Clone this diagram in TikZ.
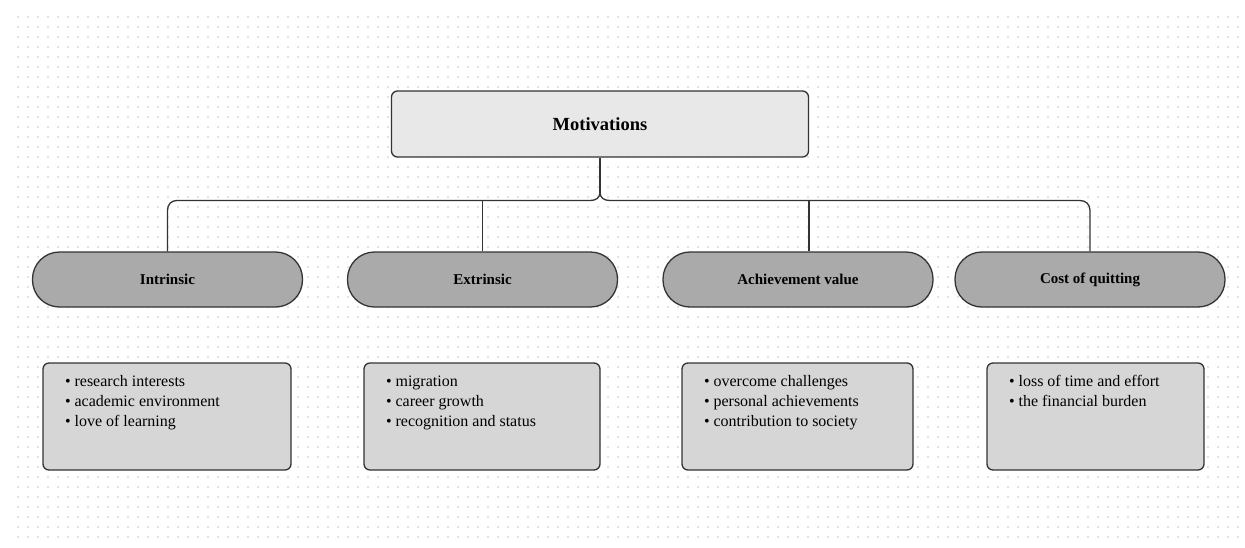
\documentclass[tikz,border=0pt]{standalone}
\usepackage{fontspec}
\setmainfont{Liberation Serif}
\definecolor{dotc}{HTML}{E2E2E8}
\definecolor{edgec}{HTML}{333333}
\definecolor{topfill}{HTML}{E8E8E8}
\definecolor{pillfill}{HTML}{AAAAAA}
\definecolor{boxfill}{HTML}{D6D6D6}
\newcommand\itemlist[2]{\parbox[c][107pt][t]{#1}{\raggedright\leftskip=22pt\fontsize{16}{20}\selectfont\rule{0pt}{23pt}#2}}
\tikzset{
  topbox/.style={draw=edgec, line width=1.3pt, fill=topfill, rounded corners=6pt,
    minimum width=417pt, minimum height=66pt, inner sep=0pt,
    font=\fontsize{18.5}{22}\selectfont\bfseries},
  pill/.style={draw=edgec, line width=1.3pt, fill=pillfill, rounded corners=27pt,
    minimum width=270pt, minimum height=55pt, inner sep=0pt,
    font=\fontsize{15}{18}\selectfont\bfseries},
  listbox/.style={draw=edgec, line width=1.3pt, fill=boxfill, rounded corners=6pt,
    inner sep=0pt},
  conn/.style={draw=edgec, line width=1.3pt}
}
\begin{document}
\begin{tikzpicture}[x=1pt,y=-1pt]
\useasboundingbox (0,0) rectangle (1245,547);
\fill[white] (0,0) rectangle (1245,547);
\foreach \i in {0,...,122}{
  \foreach \j in {0,...,52}{
    \fill[dotc] ({17+10*\i},{16+10*\j}) rectangle ++(2,2);
  }
}
% nodes
\node[topbox] (mot) at (600,124) {Motivations};
\node[pill] (int) at (167.5,279.5) {Intrinsic};
\node[pill] (ext) at (482.5,279.5) {Extrinsic};
\node[pill] (ach) at (798,279.5) {Achievement value};
\node[pill] (cost) at (1090,279.5) {Cost of quitting};

\node[listbox] (l1) at (167,416.5) {\itemlist{248pt}{• research interests\\• academic environment\\• love of learning}};
\node[listbox] (l2) at (482,416.5) {\itemlist{236pt}{• migration\\• career growth\\• recognition and status}};
\node[listbox] (l3) at (797.5,416.5) {\itemlist{231pt}{• overcome challenges\\• personal achievements\\• contribution to society}};
\node[listbox] (l4) at (1095.5,416.5) {\itemlist{217pt}{• loss of time and effort\\• the financial burden}};

% connectors
\coordinate (split) at (600,192);
\coordinate (busL) at (590,200.5);
\coordinate (busR) at (610,200.5);
\coordinate (cornL) at (177,200.5);
\coordinate (cornR) at (1080,200.5);
\coordinate (achJ) at (809,200.5);
\draw[conn] (mot.south) -- (split);
\draw[conn] (split) .. controls (600,198) and (596,200.5) .. (busL) -- (cornL)
  .. controls (171,200.5) and (167.5,204.5) .. (167.5,210.5) -- (int.north);
\draw[conn] (split) .. controls (600,198) and (604,200.5) .. (busR) -- (cornR)
  .. controls (1086,200.5) and (1090,204.5) .. (1090,210.5) -- (cost.north);
\draw[conn] (ext.north) -- (ext.north |- busL);
\draw[conn] (achJ) -- (achJ |- ach.north);
\end{tikzpicture}
\end{document}
